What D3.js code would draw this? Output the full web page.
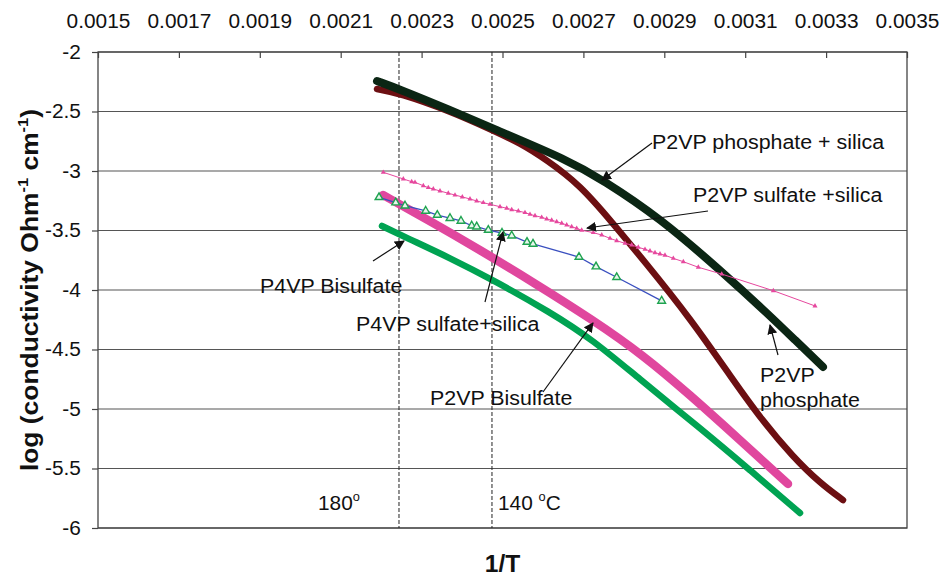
<!DOCTYPE html>
<html>
<head>
<meta charset="utf-8">
<script src="https://cdn.jsdelivr.net/npm/d3@7"></script>
<style>
  body { margin: 0; background: #fff; }
  text { font-family: "Liberation Sans", Arial, sans-serif; fill: #111; }
</style>
</head>
<body>
<div id="chart"></div>
<script>
// tick values
var xTicks = [0.0015, 0.0017, 0.0019, 0.0021, 0.0023, 0.0025, 0.0027, 0.0029, 0.0031, 0.0033, 0.0035];
var yTicks = [-2, -2.5, -3, -3.5, -4, -4.5, -5, -5.5, -6];

// P2VP phosphate + silica (thick black)
var phosSilicaX = [0.0021897, 0.0022441, 0.0023702, 0.002474, 0.0026619, 0.0027485, 0.0028894, 0.0030377, 0.0031539, 0.0032231, 0.0032923];
var phosSilicaY = [-2.244, -2.311, -2.487, -2.639, -2.908, -3.076, -3.395, -3.832, -4.193, -4.420, -4.647];

// P2VP phosphate (dark red)
var phosX = [0.0021897, 0.0022441, 0.0023702, 0.002474, 0.0025433, 0.00261, 0.0026916, 0.0027682, 0.0028523, 0.0029635, 0.0030699, 0.0031391, 0.0032182, 0.0032849, 0.0033418];
var phosY = [-2.311, -2.345, -2.496, -2.655, -2.765, -2.908, -3.118, -3.420, -3.765, -4.235, -4.756, -5.084, -5.403, -5.622, -5.765];

// P2VP Bisulfate (thick pink)
var p2bisX = [0.0022046, 0.0023208, 0.0024444, 0.0025754, 0.0027237, 0.0028473, 0.0029635, 0.0030872, 0.0032058];
var p2bisY = [-3.202, -3.420, -3.664, -3.933, -4.252, -4.546, -4.882, -5.261, -5.630];

// P4VP Bisulfate (green)
var p4bisX = [0.0022021, 0.0022639, 0.0023702, 0.0024765, 0.0026174, 0.0027237, 0.0028325, 0.0029883, 0.0031119, 0.0032355];
var p4bisY = [-3.462, -3.563, -3.731, -3.916, -4.185, -4.420, -4.731, -5.160, -5.513, -5.874];

// P4VP sulfate+silica (blue line, green triangles)
var p4silX = [0.0021947, 0.002236, 0.002259, 0.0023101, 0.0023388, 0.0023702, 0.0023974, 0.0024239, 0.0024362, 0.0024649, 0.0024988, 0.0025228, 0.0025606, 0.0025754, 0.0026891, 0.0027312, 0.0027823, 0.0028935];
var p4silY = [-3.221, -3.266, -3.292, -3.336, -3.370, -3.397, -3.420, -3.460, -3.468, -3.496, -3.521, -3.544, -3.597, -3.613, -3.723, -3.804, -3.893, -4.092];

// P2VP sulfate + silica (thin pink, small triangles)
var p2silX = [0.0022053, 0.0022548, 0.0022755, 0.0022837, 0.0023042, 0.0023166, 0.0023289, 0.0023455, 0.002366, 0.0023826,
              0.0024006, 0.0024197, 0.0024362, 0.0024525, 0.0024691, 0.0024938, 0.0025104, 0.0025228, 0.0025391, 0.0025556,
              0.002568, 0.0025804, 0.0025969, 0.0026093, 0.0026216, 0.002634, 0.0026464, 0.0026587, 0.0026711, 0.0026834,
              0.0026958, 0.0027245, 0.0027453, 0.0027658, 0.0027823, 0.0028029, 0.0028194, 0.0028357, 0.0028523, 0.0028647,
              0.002877, 0.0028894, 0.0029017, 0.0029223, 0.002947, 0.0029841, 0.0030419, 0.0031695, 0.0032726];
var p2silY = [-3.011, -3.067, -3.090, -3.095, -3.124, -3.140, -3.151, -3.168, -3.187, -3.202,
              -3.218, -3.235, -3.252, -3.266, -3.280, -3.300, -3.313, -3.325, -3.336, -3.350,
              -3.364, -3.376, -3.389, -3.403, -3.414, -3.426, -3.439, -3.454, -3.468, -3.482,
              -3.498, -3.518, -3.538, -3.566, -3.586, -3.608, -3.622, -3.641, -3.658, -3.672,
              -3.687, -3.697, -3.708, -3.734, -3.762, -3.809, -3.866, -4.006, -4.134];

// temperature markers (dashed verticals)
var tempLinesX = [0.0022441, 0.002474];

// annotations: text anchor point and arrow (from -> to), in data units
var annText = ["P2VP phosphate + silica", "P2VP sulfate +silica", "P4VP Bisulfate", "P4VP sulfate+silica", "P2VP Bisulfate"];
var annTextX = [0.0028696, 0.002971, 0.0019005, 0.0021378, 0.0023208];
var annTextY = [-2.815, -3.261, -4.025, -4.345, -4.966];
var annFrom = [[0.0028696, -2.765], [0.003008, -3.336], [0.0021799, -3.756], [0.0024567, -4.101], [0.0026001, -4.857]];
var annTo = [[0.002746, -3.076], [0.0027089, -3.479], [0.0022565, -3.588], [0.0025012, -3.513], [0.0027237, -4.277]];
var phosLabelX = 0.0031366, phosLabelY = [-4.773, -4.983];
var phosArrow = [[0.0031811, -4.546], [0.0031613, -4.294]];

var W = 943, H = 577;
var margin = { top: 52, right: 36, bottom: 49, left: 98 };
var sx = 1.07; // glyphs in the original are a bit wider than Arial

var svg = d3.select("#chart").append("svg")
    .attr("width", W)
    .attr("height", H);

var x = d3.scaleLinear().domain([0.0015, 0.0035]).range([margin.left, W - margin.right]);
var y = d3.scaleLinear().domain([-6, -2]).range([H - margin.bottom, margin.top]);

var defs = svg.append("defs");
defs.append("marker")
    .attr("id", "arrow")
    .attr("viewBox", "0 0 10 10")
    .attr("refX", 9).attr("refY", 5)
    .attr("markerWidth", 10).attr("markerHeight", 10)
    .attr("markerUnits", "userSpaceOnUse")
    .attr("orient", "auto")
    .append("path")
    .attr("d", "M0,0 L10,5 L0,10 z")
    .attr("fill", "#111");

// gridlines
svg.append("g").selectAll("line")
    .data(yTicks)
    .enter().append("line")
    .attr("x1", x(0.0015)).attr("x2", x(0.0035))
    .attr("y1", function(d) { return y(d); })
    .attr("y2", function(d) { return y(d); })
    .attr("stroke", "#555")
    .attr("stroke-width", 1.2);

// plot border
svg.append("rect")
    .attr("x", x(0.0015)).attr("y", y(-2))
    .attr("width", x(0.0035) - x(0.0015))
    .attr("height", y(-6) - y(-2))
    .attr("fill", "none")
    .attr("stroke", "#444")
    .attr("stroke-width", 1.3);

// dashed temperature lines
svg.append("g").selectAll("line")
    .data(tempLinesX)
    .enter().append("line")
    .attr("x1", function(d) { return x(d); })
    .attr("x2", function(d) { return x(d); })
    .attr("y1", y(-2)).attr("y2", y(-6))
    .attr("stroke", "#222")
    .attr("stroke-width", 1)
    .attr("stroke-dasharray", "4,2");

// axes
var topAxis = svg.append("g")
    .attr("transform", "translate(0," + y(-2) + ")")
    .call(d3.axisTop(x).tickValues(xTicks).tickSize(-6).tickPadding(24).tickFormat(d3.format(".4f")));
topAxis.select(".domain").remove();
topAxis.selectAll("line").attr("stroke", "#444").attr("stroke-width", 1.2);
topAxis.selectAll("text")
    .attr("font-size", 19.5)
    .attr("fill", "#111")
    .attr("transform", "scale(" + sx + ",1)");

var leftAxis = svg.append("g")
    .attr("transform", "translate(" + x(0.0015) + ",0)")
    .call(d3.axisLeft(y).tickValues(yTicks).tickSize(6).tickPadding(10).tickFormat(function(d) { return String(d); }));
leftAxis.select(".domain").remove();
leftAxis.selectAll("line").attr("stroke", "#444").attr("stroke-width", 1.2);
leftAxis.selectAll("text")
    .attr("font-size", 19.5)
    .attr("fill", "#111")
    .attr("transform", "scale(" + sx + ",1)");

function zip(xs, ys) {
    return xs.map(function(v, i) { return [v, ys[i]]; });
}

var smooth = d3.line()
    .x(function(d) { return x(d[0]); })
    .y(function(d) { return y(d[1]); })
    .curve(d3.curveBasis);

var straight = d3.line()
    .x(function(d) { return x(d[0]); })
    .y(function(d) { return y(d[1]); });

function thick(data, color, width) {
    svg.append("path")
        .datum(data)
        .attr("d", smooth)
        .attr("fill", "none")
        .attr("stroke", color)
        .attr("stroke-width", width)
        .attr("stroke-linecap", "round");
}

thick(zip(p4bisX, p4bisY), "#00a352", 6.5);
thick(zip(p2bisX, p2bisY), "#e0479e", 8.5);
thick(zip(phosX, phosY), "#6c0f12", 6.5);
thick(zip(phosSilicaX, phosSilicaY), "#0b2614", 8);

// P4VP sulfate+silica
var p4sil = zip(p4silX, p4silY);
svg.append("path")
    .datum(p4sil)
    .attr("d", straight)
    .attr("fill", "none")
    .attr("stroke", "#3a4fbf")
    .attr("stroke-width", 1.3);
svg.append("g").selectAll("path")
    .data(p4sil)
    .enter().append("path")
    .attr("transform", function(d) { return "translate(" + x(d[0]) + "," + y(d[1]) + ")"; })
    .attr("d", d3.symbol(d3.symbolTriangle).size(26))
    .attr("fill", "#e8f6ec")
    .attr("stroke", "#1ea350")
    .attr("stroke-width", 1.4);

// P2VP sulfate + silica
var p2sil = zip(p2silX, p2silY);
svg.append("path")
    .datum(p2sil)
    .attr("d", straight)
    .attr("fill", "none")
    .attr("stroke", "#e6489e")
    .attr("stroke-width", 1);
svg.append("g").selectAll("path")
    .data(p2sil)
    .enter().append("path")
    .attr("transform", function(d) { return "translate(" + x(d[0]) + "," + y(d[1]) + ")"; })
    .attr("d", d3.symbol(d3.symbolTriangle).size(11))
    .attr("fill", "#e6489e");

// annotations
function label(px, py, str, size, anchor, weight) {
    return svg.append("text")
        .attr("transform", "translate(" + px + "," + py + ") scale(" + sx + ",1)")
        .attr("text-anchor", anchor || "start")
        .attr("font-size", size)
        .attr("font-weight", weight || "normal")
        .text(str);
}

annText.forEach(function(t, i) {
    label(x(annTextX[i]), y(annTextY[i]), t, 20);
    svg.append("line")
        .attr("x1", x(annFrom[i][0])).attr("y1", y(annFrom[i][1]))
        .attr("x2", x(annTo[i][0])).attr("y2", y(annTo[i][1]))
        .attr("stroke", "#111")
        .attr("stroke-width", 1.2)
        .attr("marker-end", "url(#arrow)");
});
label(x(phosLabelX), y(phosLabelY[0]), "P2VP", 20);
label(x(phosLabelX), y(phosLabelY[1]), "phosphate", 20);
svg.append("line")
    .attr("x1", x(phosArrow[0][0])).attr("y1", y(phosArrow[0][1]))
    .attr("x2", x(phosArrow[1][0])).attr("y2", y(phosArrow[1][1]))
    .attr("stroke", "#111")
    .attr("stroke-width", 1.2)
    .attr("marker-end", "url(#arrow)");

// temperature labels
var t1 = label(x(0.0020439), y(-5.849), "180", 19.5);
t1.append("tspan").attr("dy", -9).attr("font-size", 12).text("o");
var t2 = label(x(0.0024889), y(-5.849), "140 ", 19.5);
t2.append("tspan").attr("dy", -9).attr("font-size", 12).text("o");
t2.append("tspan").attr("dy", 9).text("C");

// axis titles
label((x(0.0015) + x(0.0035)) / 2, 572, "1/T", 23, "middle", "bold");

var yt = svg.append("text")
    .attr("transform", "translate(38," + ((y(-2) + y(-6)) / 2) + ") rotate(-90) scale(1.1,1)")
    .attr("text-anchor", "middle")
    .attr("font-size", 24)
    .attr("font-weight", "bold");
yt.append("tspan").text("log (conductivity Ohm");
yt.append("tspan").attr("dy", -10).attr("font-size", 15).text("-1");
yt.append("tspan").attr("dy", 10).text(" cm");
yt.append("tspan").attr("dy", -10).attr("font-size", 15).text("-1");
yt.append("tspan").attr("dy", 10).text(")");
</script>
</body>
</html>
